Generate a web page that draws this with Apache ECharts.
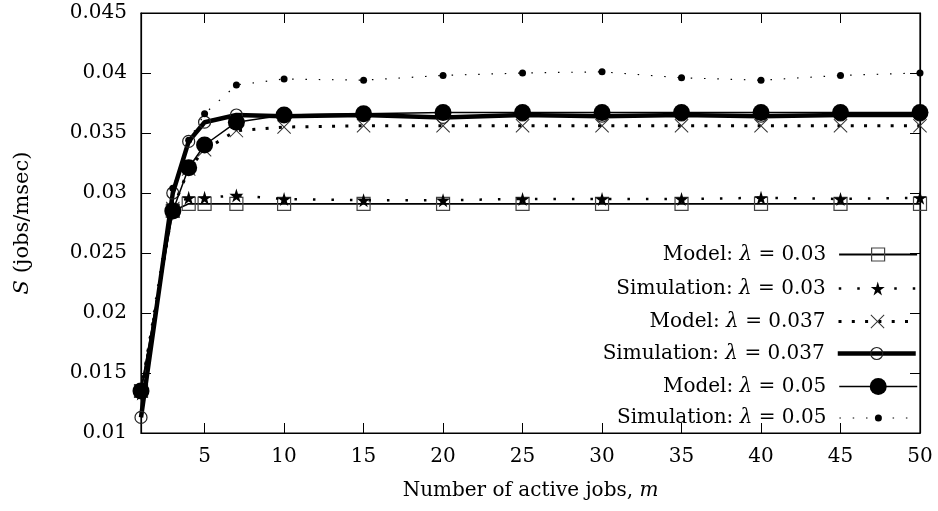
<!DOCTYPE html>
<html>
<head>
<meta charset="utf-8">
<script src="https://cdn.jsdelivr.net/npm/echarts@6/dist/echarts.min.js"></script>
<style>
html,body{margin:0;padding:0;background:#fff;}
#chart{width:938px;height:511px;}
</style>
</head>
<body>
<div id="chart"></div>
<script>
// ---- data ----
const mValues = [1, 3, 4, 5, 7, 10, 15, 20, 25, 30, 35, 40, 45, 50];
const modelL03 = [0.0135, 0.0285, 0.0291, 0.0291, 0.0291, 0.0291, 0.0291, 0.0291, 0.0291, 0.0291, 0.0291, 0.0291, 0.0291, 0.0291];
const simL03   = [0.0133, 0.0290, 0.0296, 0.0296, 0.0298, 0.0295, 0.0294, 0.0294, 0.0295, 0.0295, 0.0295, 0.0296, 0.0295, 0.0296];
const modelL037 = [0.0135, 0.0287, 0.0320, 0.0336, 0.0352, 0.0355, 0.0356, 0.0356, 0.0356, 0.0356, 0.0356, 0.0356, 0.0356, 0.0356];
const simL037   = [0.0113, 0.0300, 0.0343, 0.0359, 0.0365, 0.0364, 0.0365, 0.0363, 0.0365, 0.0364, 0.0365, 0.0364, 0.0365, 0.0365];
const modelL05 = [0.0135, 0.0285, 0.0321, 0.0340, 0.0359, 0.0365, 0.0366, 0.0367, 0.0367, 0.0367, 0.0367, 0.0367, 0.0367, 0.0367];
const simL05   = [0.0135, 0.0304, 0.0344, 0.0366, 0.0390, 0.0395, 0.0394, 0.0398, 0.0400, 0.0401, 0.0396, 0.0394, 0.0398, 0.0400];
const seriesNames = [
  'Model: λ = 0.03', 'Simulation: λ = 0.03',
  'Model: λ = 0.037', 'Simulation: λ = 0.037',
  'Model: λ = 0.05', 'Simulation: λ = 0.05'
];
const xTicks = [5, 10, 15, 20, 25, 30, 35, 40, 45, 50];

const pairs = arr => mValues.map((m, i) => [m, arr[i]]);

const STAR = 'path://M50,0 L61,35 L98,35 L68,57 L79,91 L50,70 L21,91 L32,57 L2,35 L39,35 Z';
const CROSS = 'path://M0,5 L5,0 L50,45 L95,0 L100,5 L55,50 L100,95 L95,100 L50,55 L5,100 L0,95 L45,50 Z';
const FONT = 'DejaVu Serif';
const FS = 20;

const chart = echarts.init(document.getElementById('chart'), null, {renderer: 'canvas'});

const lineStyles = [
  {color: '#000', width: 1.8, type: 'solid'},
  {color: '#000', width: 2.5, type: [2.5, 16]},
  {color: '#000', width: 3, type: [3, 10.3]},
  {color: '#000', width: 4.5, type: 'solid'},
  {color: '#000', width: 1.5, type: 'solid'},
  {color: '#000', width: 1.2, type: [1.5, 11.8]}
];
const symbols = ['rect', STAR, CROSS, 'circle', 'circle', 'circle'];
const symbolSizes = [13, 14, 14, 12, 17, 7];
const itemStyles = [
  {color: 'rgba(0,0,0,0)', borderColor: '#444', borderWidth: 1.2},
  {color: '#000'},
  {color: '#333'},
  {color: 'rgba(0,0,0,0)', borderColor: '#222', borderWidth: 1.2},
  {color: '#000'},
  {color: '#000'}
];

function mk(i, data) {
  return {
    name: seriesNames[i], type: 'line', data: pairs(data), clip: false,
    symbol: symbols[i], symbolSize: symbolSizes[i], showAllSymbol: true,
    lineStyle: lineStyles[i], itemStyle: itemStyles[i], z: 2 + i,
    emphasis: {disabled: true}, animation: false
  };
}

const legendCenters = [254.5, 288.5, 321.5, 353.5, 386.5, 418];
const legends = seriesNames.map((n, i) => {
  const ih = symbolSizes[i] / 0.8;
  const h = Math.max(ih, 22);
  return {
    orient: 'vertical', right: 20, top: legendCenters[i] - h / 2, align: 'right', padding: 0,
    itemWidth: 78, itemHeight: ih,
    data: [n],
    lineStyle: Object.assign({}, lineStyles[i]),
    itemStyle: Object.assign({}, itemStyles[i]),
    textStyle: {fontFamily: FONT, fontSize: FS, color: '#000', padding: [0, 8, 0, 0], lineHeight: 22,
      rich: {i: {fontFamily: FONT, fontStyle: 'italic', fontSize: FS, color: '#000', lineHeight: 22}}},
    formatter: s => s.replace('λ', '{i|λ}'),
    selectedMode: false
  };
});

const italicRich = {i: {fontFamily: FONT, fontStyle: 'italic', fontSize: FS, color: '#000'}};

const option = {
  backgroundColor: '#fff',
  animation: false,
  grid: {left: 141, right: 18, top: 13, bottom: 78, show: true, borderColor: '#000', borderWidth: 1.2, backgroundColor: 'transparent'},
  legend: legends,
  xAxis: [{
    type: 'value', min: 1, max: 50, position: 'bottom',
    name: 'Number of active jobs, {i|m}', nameLocation: 'middle', nameGap: 48,
    nameTextStyle: {fontFamily: FONT, fontSize: FS, color: '#000', rich: italicRich},
    axisLine: {show: true, lineStyle: {color: '#000', width: 1.2}},
    axisTick: {show: true, inside: true, length: 10, customValues: xTicks, lineStyle: {color: '#000', width: 1}},
    axisLabel: {customValues: xTicks, fontFamily: FONT, fontSize: FS, color: '#000', margin: 14},
    splitLine: {show: false}
  }, {
    type: 'value', min: 1, max: 50, position: 'top',
    axisLine: {show: true, lineStyle: {color: '#000', width: 1.2}},
    axisTick: {show: true, inside: true, length: 10, customValues: xTicks, lineStyle: {color: '#000', width: 1}},
    axisLabel: {show: false}, splitLine: {show: false}
  }],
  yAxis: [{
    type: 'value', min: 0.01, max: 0.045, interval: 0.005, position: 'left',
    name: '{i|S} (jobs/msec)', nameLocation: 'middle', nameGap: 108, nameRotate: 90,
    nameTextStyle: {fontFamily: FONT, fontSize: 21, color: '#000',
      rich: {i: {fontFamily: FONT, fontStyle: 'italic', fontSize: 21, color: '#000'}}},
    axisLine: {show: true, lineStyle: {color: '#000', width: 1.2}},
    axisTick: {show: true, inside: true, length: 10, lineStyle: {color: '#000', width: 1}},
    axisLabel: {fontFamily: FONT, fontSize: FS, color: '#000', margin: 14, formatter: v => String(+v.toFixed(3))},
    splitLine: {show: false}
  }, {
    type: 'value', min: 0.01, max: 0.045, interval: 0.005, position: 'right',
    axisLine: {show: true, lineStyle: {color: '#000', width: 1.2}},
    axisTick: {show: true, inside: true, length: 10, lineStyle: {color: '#000', width: 1}},
    axisLabel: {show: false}, splitLine: {show: false}
  }],
  series: [
    mk(0, modelL03),
    mk(1, simL03),
    mk(2, modelL037),
    mk(3, simL037),
    mk(4, modelL05),
    mk(5, simL05)
  ]
};
chart.setOption(option);
</script>
</body>
</html>
